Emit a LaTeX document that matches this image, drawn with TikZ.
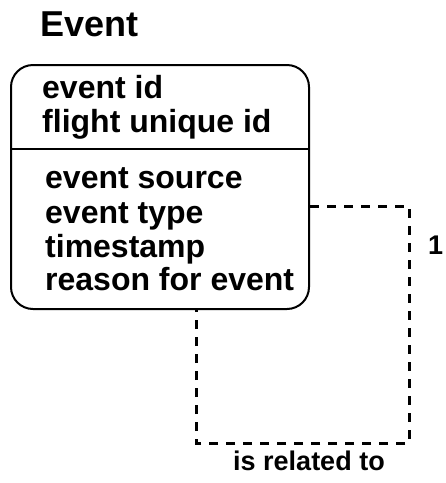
\documentclass[tikz,border=0pt]{standalone}
\usepackage{fontspec}
\setmainfont{Liberation Sans}
\begin{document}
\begin{tikzpicture}[x=1pt,y=-1pt,
  classbox/.style={draw, line width=2pt, rounded corners=22pt, inner sep=0pt,
    minimum width=298pt, minimum height=244pt, anchor=north west},
  attr/.style={anchor=base west, inner sep=0pt,
    font=\fontsize{32}{34}\selectfont\bfseries},
  title/.style={anchor=base west, inner sep=0pt, font=\fontsize{36}{38}\selectfont\bfseries},
  lbl/.style={inner sep=0pt, font=\fontsize{27}{30}\selectfont\bfseries},
  rel/.style={line width=3pt, dash pattern=on 9pt off 8pt}]
\useasboundingbox (0,0) rectangle (446,483);

% class title
\node[title] (ttl) at (40,36) {Event};

% class compartment box
\node[classbox] (event) at (10,64) {};
\coordinate (divl) at (10,149);
\coordinate (divr) at (310,149);
\draw[line width=2pt] (divl) -- (divr);

% key attributes
\node[attr] (k1) at (42,98) {event id};
\node[attr] (k2) at (42,132) {flight unique id};
% other attributes
\node[attr] (f1) at (45,188) {event source};
\node[attr] (f2) at (45,223) {event type};
\node[attr] (f3) at (45,257) {timestamp};
\node[attr] (f4) at (45,290) {reason for event};

% reflexive association
\coordinate (p1) at (event.east |- 0,206);
\coordinate (p2) at (409,206);
\coordinate (p3) at (409,443);
\coordinate (p4) at (196,443);
\coordinate (p5) at (event.south -| 196,0);
\draw[rel] (p1) -- (p2) -- (p3) -- (p4) -- (p5);

\node[lbl, anchor=base] (rname) at (309,470) {is related to};
\node[lbl, anchor=base west] (mult) at (428,254) {1};
\end{tikzpicture}
\end{document}
